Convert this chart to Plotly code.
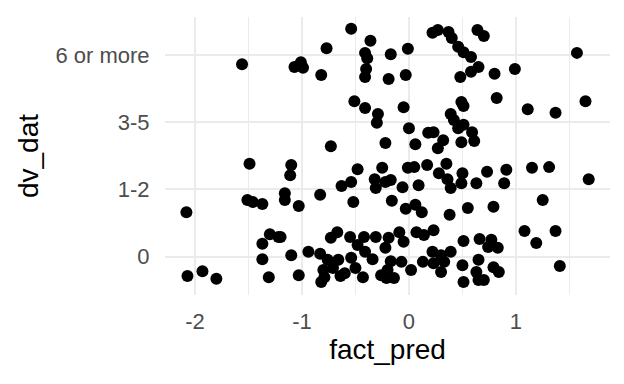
import plotly.graph_objects as go

# fact_pred (x) and jittered dv_dat position (y; 0="0", 1="1-2", 2="3-5", 3="6 or more")
fact_pred = [
    -1.56, -1.07, -1.01, -0.99, -0.82, -0.77, -0.54, -0.36, -0.41, -0.39,
    -0.40, -0.41, -0.17, -0.19, -0.51, -0.41, -0.29, -0.30, -0.73, -0.22,
    -0.01, -0.03, 0.22, 0.27, 0.37, 0.40, 0.64, 0.70, 0.46, 0.51,
    0.58, 0.65, 0.58, 0.48, 0.80, 0.82, 0.49, 0.51, -0.05, 0.39,
    0.42, 0.46, 0.51, 0.59, 0.00, 0.06, 0.18, 0.23, 0.32, 0.27,
    0.49, 0.61, 0.99, 1.57, 1.11, 1.37, 1.65,
    -1.49, -1.51, -1.46, -1.37, -2.08, -1.30, -1.22, -1.37, -1.37, -2.07,
    -1.93, -1.80, -1.31, -1.10, -1.11, -0.48, -0.54, -0.63, -0.25, -0.32,
    -0.22, -0.31, -1.16, -1.16, -1.03, -0.83, -0.52, -0.16, -1.20, -0.67,
    -0.73, -0.55, -0.42, -0.31, -0.19, -0.48, -0.41, -0.34, -0.22, -1.10,
    -0.94, -0.83, -0.76, -0.66, -0.54, -0.80, -0.71, -0.60, -0.50, -0.43,
    -1.03, -0.82, -0.64, -0.26, -0.20, -0.21, -0.79,
    -0.01, 0.05, 0.17, 0.35, 0.28, 0.36, 0.50, 0.49, 0.39, 0.63,
    0.73, 0.91, 0.89, -0.17, -0.06, 0.09, -0.03, 0.06, 0.12, 0.38,
    0.55, 0.79, -0.09, -0.05, 0.07, 0.14, 0.23, 0.51, 0.66, 0.77,
    0.83, 0.74, -0.07, -0.17, 0.22, 0.30, 0.39, 0.33, 0.23, 0.13,
    0.02, 0.30, 0.50, 0.65, 0.79, 0.84, 0.63, 0.65, 0.51, 0.70,
    -0.14, 1.15, 1.31, 1.68, 1.25, 1.08, 1.19, 1.37, 1.41,
]
dv_dat = [
    2.86, 2.82, 2.89, 2.81, 2.70, 3.10, 3.39, 3.21, 3.03, 2.95,
    2.79, 2.67, 3.01, 2.64, 2.31, 2.21, 2.12, 1.99, 1.64, 1.69,
    3.09, 2.70, 3.33, 3.37, 3.34, 3.25, 3.37, 3.28, 3.12, 3.04,
    2.97, 2.82, 2.75, 2.67, 2.72, 2.36, 2.30, 2.24, 2.22, 2.12,
    2.03, 1.91, 1.96, 1.85, 1.91, 1.67, 1.84, 1.85, 1.73, 1.61,
    1.70, 1.72, 2.79, 3.03, 2.19, 2.14, 2.31,
    1.38, 0.84, 0.81, 0.78, 0.66, 0.33, 0.29, 0.19, -0.04, -0.29,
    -0.22, -0.33, -0.31, 1.36, 1.21, 1.30, 1.11, 1.05, 1.32, 1.15,
    1.11, 1.02, 0.94, 0.84, 0.75, 0.92, 0.81, 0.83, 0.29, 0.36,
    0.28, 0.29, 0.29, 0.29, 0.28, 0.17, 0.07, -0.04, 0.13, 0.02,
    0.07, 0.04, -0.05, -0.05, -0.02, -0.20, -0.17, -0.25, -0.17, -0.31,
    -0.28, -0.38, -0.29, -0.28, -0.20, -0.32, -0.31,
    1.32, 1.33, 1.36, 1.38, 1.24, 1.15, 1.24, 1.09, 1.02, 1.09,
    1.26, 1.29, 1.09, 1.14, 1.03, 1.06, 0.71, 0.77, 0.66, 0.62,
    0.72, 0.74, 0.36, 0.22, 0.36, 0.32, 0.39, 0.23, 0.26, 0.25,
    0.13, 0.14, -0.08, -0.07, 0.07, 0.02, 0.07, -0.08, -0.10, -0.08,
    -0.20, -0.23, -0.13, -0.05, -0.16, -0.23, -0.23, -0.35, -0.38, -0.35,
    -0.32, 1.32, 1.33, 1.15, 0.84, 0.38, 0.20, 0.38, -0.14,
]

x_ticks = [-2, -1, 0, 1]
x_tick_labels = ["-2", "-1", "0", "1"]
y_ticks = [0, 1, 2, 3]
y_tick_labels = ["0", "1-2", "3-5", "6 or more"]

FONT = "Liberation Sans, Arial, sans-serif"
GRID = "#ebebeb"

fig = go.Figure(
    go.Scatter(
        x=fact_pred, y=dv_dat, mode="markers",
        marker=dict(color="black", size=12, line=dict(width=0)),
        showlegend=False,
    )
)

fig.update_layout(
    width=624, height=384,
    margin=dict(l=165, r=14, t=17, b=89),
    paper_bgcolor="white", plot_bgcolor="white",
    font=dict(family=FONT),
)
fig.update_xaxes(
    range=[-2.280, 1.879],
    tickmode="array", tickvals=x_ticks, ticktext=x_tick_labels,
    showgrid=True, gridcolor=GRID, gridwidth=2,
    minor=dict(tick0=0, dtick=0.5, showgrid=True, gridcolor=GRID, gridwidth=1),
    zeroline=False, showline=False,
    ticks="outside", ticklen=7, tickcolor="rgba(0,0,0,0)",
    tickfont=dict(size=22, color="#4d4d4d", family=FONT),
    title=dict(text="fact_pred", font=dict(size=28, color="black", family=FONT), standoff=4),
)
fig.update_yaxes(
    range=[-0.573, 3.564],
    tickmode="array", tickvals=y_ticks, ticktext=y_tick_labels,
    showgrid=True, gridcolor=GRID, gridwidth=2,
    zeroline=False, showline=False,
    ticks="outside", ticklen=10, tickcolor="rgba(0,0,0,0)",
    tickfont=dict(size=22, color="#4d4d4d", family=FONT),
    title=dict(text="dv_dat", font=dict(size=28, color="black", family=FONT), standoff=8),
)

fig.write_html("out.html")
